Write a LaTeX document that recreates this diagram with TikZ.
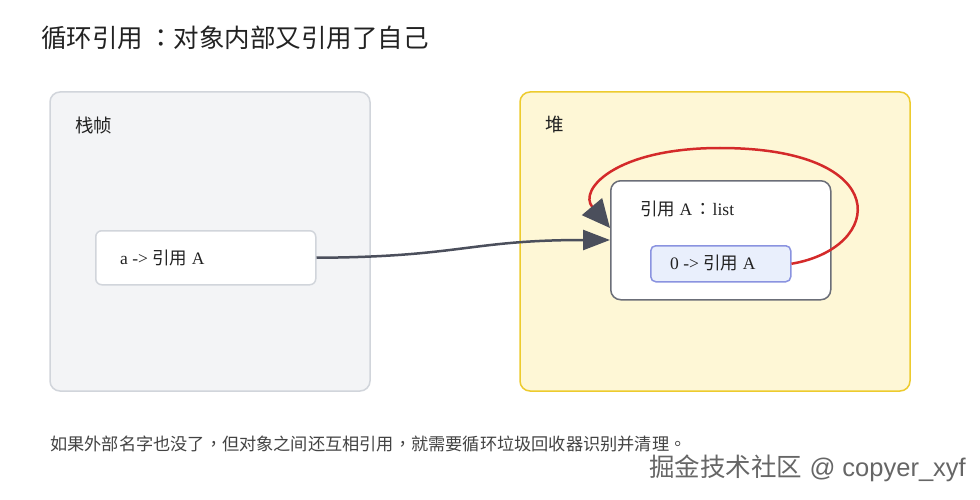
\documentclass[tikz,border=0pt]{standalone}
\usepackage{fontspec}
\setmainfont{Liberation Serif}
\newfontfamily\cjk{Noto Sans CJK SC}
\newfontfamily\cjkp{Noto Sans CJK TC}
\usetikzlibrary{arrows.meta}
\definecolor{stackfill}{HTML}{F3F4F6}
\definecolor{stackline}{HTML}{D1D5DB}
\definecolor{heapfill}{HTML}{FEF7D6}
\definecolor{heapline}{HTML}{EDCB2E}
\definecolor{listline}{HTML}{6B6E78}
\definecolor{itemfill}{HTML}{E9EFFC}
\definecolor{itemline}{HTML}{8A93E0}
\definecolor{arrowcol}{HTML}{4B4F5C}
\definecolor{loopred}{HTML}{D42A2A}
\definecolor{txt}{HTML}{222222}
\tikzset{
  region/.style={draw, line width=1.5pt, rounded corners=10pt},
  plainbox/.style={draw=stackline, fill=white, line width=1.5pt, rounded corners=6pt},
  listbox/.style={draw=listline, fill=white, line width=1.5pt, rounded corners=10pt},
  itembox/.style={draw=itemline, fill=itemfill, line width=1.5pt, rounded corners=5pt},
  lbl/.style={anchor=west, inner sep=0pt, text=txt, font=\fontsize{17.5}{20}\selectfont},
  flow/.style={draw=arrowcol, line width=2.5pt, -{Triangle[length=27pt,width=20pt]}},
  loop/.style={draw=loopred, line width=2.5pt, -{Triangle[length=28pt,width=26pt,color=arrowcol]}},
}
\begin{document}
\begin{tikzpicture}[x=1pt,y=-1pt]
\useasboundingbox (0,0) rectangle (980,500);
\fill[white] (0,0) rectangle (980,500);
% title
\node[anchor=west, inner sep=0pt, text=txt] (title) at (41,38) {\cjk\fontsize{25.5}{29}\selectfont 循环引用\hspace{5pt}{\cjkp ：}对象内部又引用了自己};
% regions
\draw[region, draw=stackline, fill=stackfill] (50,92) rectangle (370,391);
\node[anchor=west, inner sep=0pt, text=txt] (stacklbl) at (75,125) {\cjk\fontsize{18.5}{20}\selectfont 栈帧};
\draw[region, draw=heapline, fill=heapfill] (520,92) rectangle (910,391);
\node[anchor=west, inner sep=0pt, text=txt] (heaplbl) at (545,125) {\cjk\fontsize{18.5}{20}\selectfont 堆};
% nodes
\node[plainbox, minimum width=220pt, minimum height=54pt, anchor=north west] (a) at (95,230) {};
\node[lbl] (atext) at (120,258) {a -> {\cjk 引用} A};
\node[listbox, minimum width=220pt, minimum height=119pt, anchor=north west] (lst) at (610,180) {};
\node[lbl] (lsttext) at (640,209) {{\cjk 引用} A\hspace{2pt}{\cjkp ：}\hspace{1pt}list};
\node[itembox, minimum width=140pt, minimum height=36pt, anchor=north west] (item) at (650,245) {};
\node[lbl] (itemtext) at (670,263) {0 -> {\cjk 引用} A};
% connectors
\coordinate (ain) at (610,240);
\coordinate (loopin) at (610,228);
\path[flow] (a.east) .. controls (460,257) and (470,240) .. (ain);
\path[loop] (item.east) .. controls (885,248) and (895,148) .. (720,148)
  .. controls (615,148) and (578,190) .. (loopin);
% caption
\node[anchor=west, inner sep=0pt, text=txt!85] (caption) at (50,444) {\cjk\fontsize{17.2}{19}\selectfont 如果外部名字也没了{\cjkp ，}但对象之间还互相引用{\cjkp ，}就需要循环垃圾回收器识别并清理{\cjkp 。}};
% watermark
\node[anchor=east, inner sep=0pt, text=black!60] (wm) at (966,468) {\fontspec{Liberation Sans}\fontsize{25.5}{28}\selectfont{\cjk 掘金技术社区} @ copyer\_xyf};
\end{tikzpicture}
\end{document}
